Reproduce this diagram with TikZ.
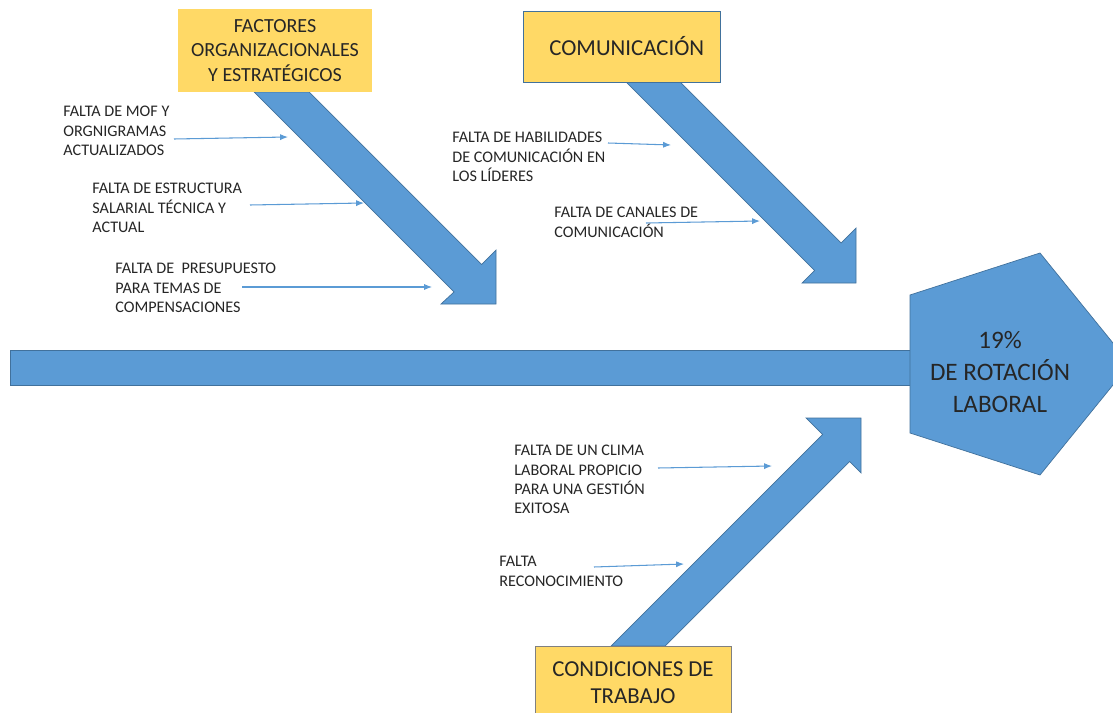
\documentclass[tikz,border=0pt]{standalone}
\usepackage{fontspec}
\setmainfont{Carlito}
\usetikzlibrary{arrows.meta}
\definecolor{boneblue}{HTML}{5B9BD5}
\definecolor{boneedge}{HTML}{41719C}
\definecolor{catyellow}{HTML}{FFD966}
\tikzset{
  bone/.style   = {fill=boneblue, draw=boneedge, line width=0.4pt},
  category/.style = {fill=catyellow, align=center, inner sep=0pt, text=black!85,
                   minimum width=3.9cm},
  cause/.style  = {anchor=north west, align=left, inner sep=0pt, text=black!85,
                   font=\fontsize{9.2}{11}\selectfont},
  link/.style   = {->, draw=boneblue, line width=0.6pt}
}

\begin{document}
\begin{tikzpicture}[x=0.02cm, y=-0.02cm, >={Latex[length=4.5pt,width=3.5pt]}]
	  \useasboundingbox (0,0) rectangle (1113,713);
	  \fill[white] (0,0) rectangle (1113,713);
	  \clip (0,0) rectangle (1113,713);

	  % spine and head of the fish
	  \draw[bone] (10,350) rectangle (910,385);
	  \draw[bone] (910,295) -- (1040,253) -- (1130,364) -- (1040,475) -- (910,433) -- cycle;
	  \node[font=\fontsize{14.3}{18}\selectfont, align=center, text=black!85] (effect) at (1000,372)
	  {19\%\\DE ROTACIÓN\\LABORAL};

	  % the three bones
	  \draw[bone] (254,92) -- (454,292) -- (441,304) -- (496,304) -- (496,250)
		-- (481.5,264.5) -- (309,92) -- cycle;
	  \draw[bone] (626,82) -- (814.5,270.5) -- (802,283) -- (856,283) -- (856,228)
		-- (841,243) -- (680,82) -- cycle;
	  \draw[bone] (611,646) -- (822.5,434.5) -- (806,418) -- (861,418) -- (861,473)
		-- (849.5,461.5) -- (665,646) -- cycle;

	  % categories
	  \node[category, minimum height=1.66cm, font=\fontsize{11.4}{14}\selectfont] (cat1) at (275,50.5)
	  {FACTORES\\ORGANIZACIONALES\\Y ESTRATÉGICOS};
	  \node[category, draw=boneedge, minimum width=3.94cm, minimum height=1.42cm,
		font=\fontsize{13}{15}\selectfont] (cat2) at (621.5,46.5) {\hspace{6pt}COMUNICACIÓN};
	  \node[category, draw=gray, minimum width=3.92cm, minimum height=1.46cm,
		font=\fontsize{13}{15}\selectfont] (cat3) at (633,682.5) {CONDICIONES DE\\TRABAJO};

	  % causes
	  \node[cause] (c11) at (63,106) {FALTA DE MOF Y\\ORGNIGRAMAS\\ACTUALIZADOS};
	  \node[cause] (c12) at (92,183) {FALTA DE ESTRUCTURA\\SALARIAL TÉCNICA Y\\ACTUAL};
	  \node[cause] (c13) at (115,263) {FALTA DE\ \ PRESUPUESTO\\PARA TEMAS DE\\COMPENSACIONES};
	  \node[cause] (c21) at (452,132) {FALTA DE HABILIDADES\\DE COMUNICACIÓN EN\\LOS LÍDERES};
	  \node[cause] (c22) at (554,207) {FALTA DE CANALES DE\\COMUNICACIÓN};
	  \node[cause] (c31) at (514,445) {FALTA DE UN CLIMA\\LABORAL PROPICIO\\PARA UNA GESTIÓN\\EXITOSA};
	  \node[cause] (c32) at (499,556) {FALTA\\RECONOCIMIENTO};

	  % start and end of the small arrows
	  \coordinate (s11) at (174,139); \coordinate (e11) at (288,137);
	  \coordinate (s12) at (250,205); \coordinate (e12) at (364,203);
	  \coordinate (s13) at (242,287); \coordinate (e13) at (432,287);
	  \coordinate (s21) at (608,143); \coordinate (e21) at (671,145);
	  \coordinate (s22) at (646,223); \coordinate (e22) at (760,221);
	  \coordinate (s31) at (658,468); \coordinate (e31) at (772,466);
	  \coordinate (s32) at (594,567); \coordinate (e32) at (684,564);

	  \foreach \value in {11,12,13,21,22,31,32}
		\draw[link] (s\value) -- (e\value);

\end{tikzpicture}
\end{document}
